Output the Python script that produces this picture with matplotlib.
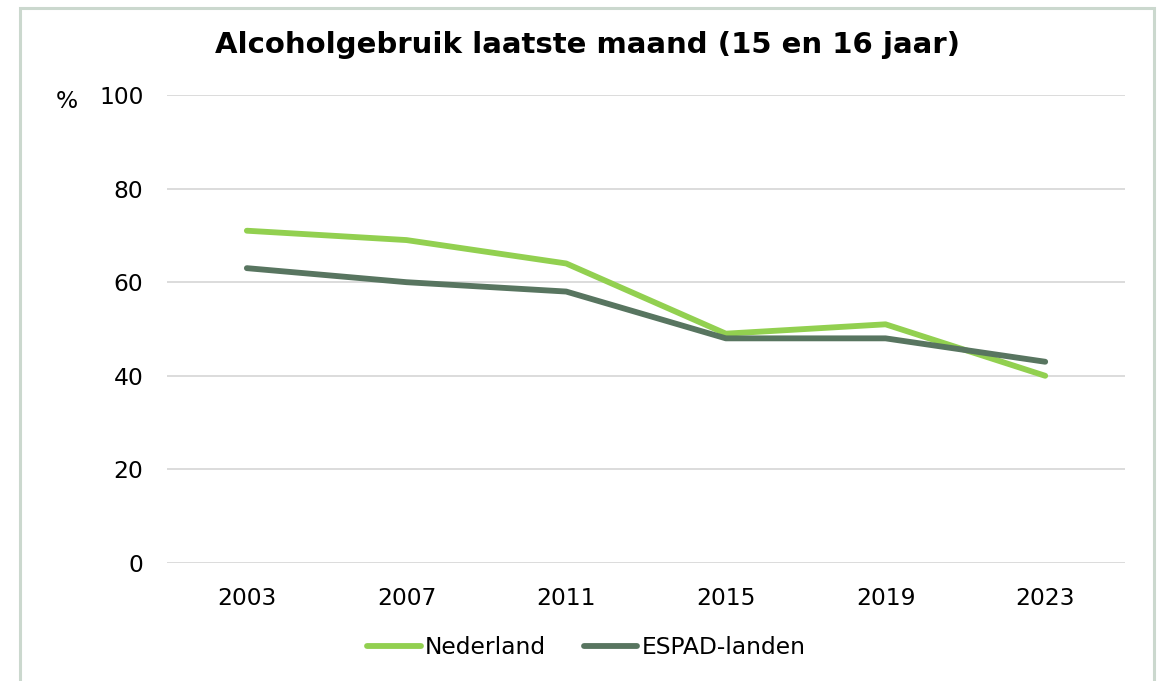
import matplotlib
matplotlib.use('Agg')
import matplotlib.pyplot as plt
from matplotlib.patches import Rectangle

years = ['2003', '2007', '2011', '2015', '2019', '2023']
nederland = [71, 69, 64, 49, 51, 40]
espad = [63, 60, 58, 48, 48, 43]

plt.rcParams['font.family'] = ['DejaVu Sans']
fs = 16.8

fig = plt.figure(figsize=(11.59, 6.81), dpi=100, facecolor='white')
ax = fig.add_axes([0.1441, 0.1733, 0.8266, 0.6872])

x = range(len(years))
ax.plot(x, nederland, color='#92D050', linewidth=4.2, solid_capstyle='round',
        solid_joinstyle='round', label='Nederland', zorder=3)
ax.plot(x, espad, color='#587560', linewidth=4.2, solid_capstyle='round',
        solid_joinstyle='round', label='ESPAD-landen', zorder=3)

ax.set_xlim(-0.5, len(years) - 0.5)
ax.set_ylim(0, 100)
ax.set_yticks(range(0, 101, 20))
ax.set_xticks(list(x))
ax.set_xticklabels(years)
ax.tick_params(axis='both', length=0, labelsize=fs, colors='black')
ax.tick_params(axis='y', pad=17)
ax.tick_params(axis='x', pad=17)
ax.grid(axis='y', color='#D9D9D9', linewidth=1.3)
ax.set_axisbelow(True)
for s in ax.spines.values():
    s.set_visible(False)

fig.text(0.0578, 1 - 102 / 681, '%', fontsize=fs, ha='center', va='center')
fig.text(0.507, 1 - 45 / 681, 'Alcoholgebruik laatste maand (15 en 16 jaar)',
         fontsize=21, fontweight='bold', ha='center', va='center')

fig.legend(loc='center', bbox_to_anchor=(0.506, 1 - 648 / 681), ncol=2,
           frameon=False, fontsize=fs, handlelength=2.3, handletextpad=0.2,
           columnspacing=1.6)

fig.patches.append(Rectangle((20 / 1159, -0.05), (1154 - 20) / 1159, 1.05 - 8 / 681,
                             transform=fig.transFigure, fill=False,
                             edgecolor='#CBD8CE', linewidth=2.2))

fig.savefig('out.png', dpi=100, facecolor='white')
